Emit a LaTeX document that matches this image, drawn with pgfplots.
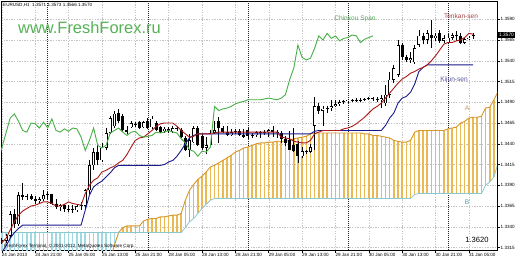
\documentclass[border=0pt]{standalone}
\usepackage{fontspec}
\setmainfont{Liberation Sans}
\usepackage{pgfplots}
\usepackage{pgfplotstable}
\pgfplotsset{compat=1.18}
\definecolor{tenkan}{RGB}{170,25,25}
\definecolor{kijun}{RGB}{25,25,140}
\definecolor{chinkou}{RGB}{70,175,70}
\definecolor{kumoup}{RGB}{232,185,85}
\definecolor{kumoA}{RGB}{214,150,40}
\definecolor{kumodn}{RGB}{160,216,228}
\definecolor{kumoB}{RGB}{140,200,205}
\definecolor{webgreen}{RGB}{86,178,86}
\definecolor{gridc}{RGB}{195,195,195}
\pgfplotsset{bars/.style={draw=none, mark=none,
  error bars/y dir=minus, error bars/y explicit, error bars/error mark=none}}

\pgfplotstableread{
i o h l c
0 1.3324 1.3327 1.3319 1.3323
1 1.3323 1.3331 1.3320 1.3329
2 1.3329 1.3359 1.3327 1.3355
3 1.3355 1.3362 1.3338 1.3343
4 1.3343 1.3382 1.3341 1.3378
5 1.3378 1.3393 1.3372 1.3376
6 1.3376 1.3380 1.3372 1.3377
7 1.3377 1.3379 1.3372 1.3374
8 1.3374 1.3377 1.3368 1.3371
9 1.3371 1.3376 1.3368 1.3373
10 1.3373 1.3384 1.3371 1.3378
11 1.3378 1.3382 1.3374 1.3379
12 1.3379 1.3380 1.3366 1.3368
13 1.3368 1.3373 1.3361 1.3364
14 1.3364 1.3368 1.3359 1.3366
15 1.3366 1.3368 1.3358 1.3361
16 1.3361 1.3366 1.3358 1.3362
17 1.3362 1.3366 1.3356 1.3360
18 1.3360 1.3367 1.3358 1.3365
19 1.3365 1.3370 1.3360 1.3366
20 1.3365 1.3386 1.3360 1.3384
21 1.3384 1.3420 1.3380 1.3414
22 1.3414 1.3435 1.3408 1.3430
23 1.3430 1.3438 1.3414 1.3420
24 1.3420 1.3441 1.3418 1.3435
25 1.3435 1.3459 1.3432 1.3453
26 1.3453 1.3473 1.3452 1.3471
27 1.3461 1.3479 1.3459 1.3476
28 1.3477 1.3482 1.3465 1.3467
29 1.3473 1.3476 1.3455 1.3456
30 1.3456 1.3461 1.3452 1.3454
31 1.3460 1.3467 1.3459 1.3465
32 1.3464 1.3466 1.3460 1.3464
33 1.3466 1.3468 1.3458 1.3459
34 1.3460 1.3468 1.3459 1.3466
35 1.3467 1.3471 1.3458 1.3459
36 1.3460 1.3473 1.3458 1.3470
37 1.3465 1.3467 1.3455 1.3456
38 1.3460 1.3462 1.3453 1.3454
39 1.3455 1.3460 1.3453 1.3458
40 1.3458 1.3460 1.3453 1.3455
41 1.3455 1.3461 1.3453 1.3459
42 1.3459 1.3461 1.3455 1.3458
43 1.3456 1.3459 1.3447 1.3448
44 1.3447 1.3449 1.3431 1.3432
45 1.3432 1.3452 1.3424 1.3444
46 1.3442 1.3461 1.3441 1.3459
47 1.3459 1.3461 1.3437 1.3438
48 1.3449 1.3452 1.3433 1.3435
49 1.3435 1.3448 1.3428 1.3438
50 1.3438 1.3456 1.3436 1.3453
51 1.3453 1.3467 1.3452 1.3456
52 1.3468 1.3472 1.3441 1.3459
53 1.3459 1.3461 1.3453 1.3454
54 1.3454 1.3461 1.3449 1.3450
55 1.3450 1.3458 1.3449 1.3454
56 1.3454 1.3458 1.3452 1.3455
57 1.3455 1.3458 1.3449 1.3450
58 1.3450 1.3458 1.3447 1.3448
59 1.3456 1.3459 1.3446 1.3449
60 1.3449 1.3453 1.3447 1.3450
61 1.3450 1.3455 1.3448 1.3454
62 1.3454 1.3455 1.3447 1.3453
63 1.3453 1.3456 1.3450 1.3454
64 1.3454 1.3458 1.3448 1.3456
65 1.3456 1.3461 1.3448 1.3454
66 1.3454 1.3456 1.3447 1.3453
67 1.3453 1.3455 1.3441 1.3446
68 1.3446 1.3449 1.3437 1.3441
69 1.3444 1.3455 1.3432 1.3433
70 1.3438 1.3459 1.3430 1.3431
71 1.3440 1.3443 1.3417 1.3425
72 1.3425 1.3436 1.3423 1.3431
73 1.3431 1.3433 1.3428 1.3430
74 1.3430 1.3440 1.3429 1.3436
75 1.3462 1.3496 1.3433 1.3485
76 1.3486 1.3489 1.3476 1.3480
77 1.3480 1.3485 1.3462 1.3482
78 1.3482 1.3486 1.3477 1.3483
79 1.3483 1.3493 1.3480 1.3485
80 1.3485 1.3493 1.3484 1.3488
81 1.3488 1.3493 1.3486 1.3490
82 1.3490 1.3493 1.3488 1.3491
83 1.3491 1.3494 1.3489 1.3493
84 1.3493 1.3494 1.3490 1.3493
85 1.3493 1.3495 1.3490 1.3493
86 1.3493 1.3495 1.3490 1.3493
87 1.3493 1.3495 1.3491 1.3494
88 1.3494 1.3496 1.3493 1.3495
89 1.3495 1.3496 1.3491 1.3494
90 1.3494 1.3496 1.3490 1.3493
91 1.3493 1.3499 1.3483 1.3495
92 1.3489 1.3511 1.3486 1.3499
93 1.3499 1.3526 1.3495 1.3517
94 1.3517 1.3535 1.3513 1.3531
95 1.3523 1.3565 1.3520 1.3559
96 1.3559 1.3561 1.3541 1.3544
97 1.3544 1.3547 1.3538 1.3541
98 1.3541 1.3550 1.3537 1.3543
99 1.3538 1.3559 1.3536 1.3555
100 1.3559 1.3577 1.3556 1.3570
101 1.3570 1.3574 1.3560 1.3565
102 1.3565 1.3577 1.3560 1.3573
103 1.3571 1.3589 1.3555 1.3567
104 1.3567 1.3573 1.3564 1.3570
105 1.3573 1.3577 1.3561 1.3564
106 1.3564 1.3571 1.3561 1.3567
107 1.3562 1.3572 1.3560 1.3568
108 1.3568 1.3574 1.3565 1.3571
109 1.3571 1.3576 1.3564 1.3570
110 1.3570 1.3573 1.3560 1.3562
111 1.3562 1.3568 1.3560 1.3566
112 1.3566 1.3570 1.3565 1.3568
113 1.3571 1.3573 1.3566 1.3570
}\candles

\pgfplotstableread{
i t k
0 1.3321 1.3309
1 1.3326 1.3317
2 1.3336 1.3326
3 1.3346 1.3333
4 1.3354 1.3338
5 1.3359 1.3342
6 1.3362 1.3342
7 1.3365 1.3342
8 1.3366 1.3342
9 1.3368 1.3342
10 1.3370 1.3342
11 1.3370 1.3342
12 1.3368 1.3342
13 1.3365 1.3342
14 1.3365 1.3342
15 1.3367 1.3342
16 1.3370 1.3342
17 1.3368 1.3342
18 1.3367 1.3342
19 1.3366 1.3342
20 1.3380 1.3360
21 1.3390 1.3378
22 1.3396 1.3388
23 1.3399 1.3392
24 1.3406 1.3395
25 1.3408 1.3400
26 1.3411 1.3405
27 1.3413 1.3411
28 1.3417 1.3414
29 1.3420 1.3414
30 1.3427 1.3414
31 1.3436 1.3414
32 1.3444 1.3414
33 1.3447 1.3414
34 1.3448 1.3414
35 1.3452 1.3414
36 1.3456 1.3414
37 1.3461 1.3414
38 1.3464 1.3414
39 1.3465 1.3415
40 1.3465 1.3418
41 1.3465 1.3420
42 1.3461 1.3425
43 1.3456 1.3432
44 1.3452 1.3440
45 1.3448 1.3447
46 1.3449 1.3450
47 1.3452 1.3452
48 1.3452 1.3452
49 1.3452 1.3452
50 1.3452 1.3452
51 1.3453 1.3452
52 1.3454 1.3452
53 1.3454 1.3452
54 1.3454 1.3452
55 1.3454 1.3452
56 1.3454 1.3452
57 1.3454 1.3452
58 1.3454 1.3452
59 1.3454 1.3452
60 1.3454 1.3452
61 1.3454 1.3452
62 1.3454 1.3452
63 1.3454 1.3452
64 1.3454 1.3452
65 1.3454 1.3452
66 1.3454 1.3452
67 1.3448 1.3452
68 1.3447 1.3452
69 1.3446 1.3452
70 1.3443 1.3452
71 1.3442 1.3452
72 1.3441 1.3452
73 1.3441 1.3452
74 1.3444 1.3452
75 1.3452 1.3455
76 1.3454 1.3456
77 1.3456 1.3456
78 1.3456 1.3456
79 1.3456 1.3456
80 1.3456 1.3456
81 1.3456 1.3456
82 1.3458 1.3456
83 1.3459 1.3456
84 1.3461 1.3456
85 1.3464 1.3456
86 1.3468 1.3456
87 1.3472 1.3456
88 1.3477 1.3456
89 1.3482 1.3456
90 1.3485 1.3456
91 1.3489 1.3456
92 1.3495 1.3462
93 1.3501 1.3471
94 1.3507 1.3477
95 1.3513 1.3489
96 1.3518 1.3495
97 1.3521 1.3497
98 1.3525 1.3502
99 1.3527 1.3512
100 1.3530 1.3527
101 1.3532 1.3532
102 1.3535 1.3535
103 1.3540 1.3535
104 1.3546 1.3535
105 1.3553 1.3535
106 1.3560 1.3535
107 1.3562 1.3535
108 1.3562 1.3535
109 1.3564 1.3535
110 1.3565 1.3535
111 1.3568 1.3535
112 1.3573 1.3535
113 1.3572 1.3535
}\ichi

\pgfplotstableread{
i A B
0 1.3300 1.3333
1 1.3300 1.3333
2 1.3300 1.3333
3 1.3300 1.3333
4 1.3300 1.3333
5 1.3300 1.3333
6 1.3300 1.3333
7 1.3300 1.3333
8 1.3300 1.3333
9 1.3300 1.3333
10 1.3300 1.3333
11 1.3300 1.3333
12 1.3300 1.3333
13 1.3300 1.3333
14 1.3300 1.3333
15 1.3300 1.3333
16 1.3300 1.3333
17 1.3300 1.3333
18 1.3300 1.3333
19 1.3300 1.3333
20 1.3300 1.3333
21 1.3300 1.3333
22 1.3300 1.3333
23 1.3300 1.3333
24 1.3300 1.3333
25 1.3300 1.3333
26 1.3300 1.3333
27 1.3318 1.3333
28 1.3333 1.3333
29 1.3339 1.3333
30 1.3341 1.3333
31 1.3341 1.3333
32 1.3341 1.3333
33 1.3341 1.3333
34 1.3347 1.3333
35 1.3349 1.3333
36 1.3350 1.3333
37 1.3350 1.3333
38 1.3352 1.3333
39 1.3352 1.3333
40 1.3353 1.3333
41 1.3354 1.3333
42 1.3354 1.3333
43 1.3356 1.3333
44 1.3372 1.3339
45 1.3384 1.3346
46 1.3391 1.3350
47 1.3397 1.3356
48 1.3401 1.3362
49 1.3406 1.3367
50 1.3412 1.3372
51 1.3414 1.3374
52 1.3417 1.3374
53 1.3420 1.3374
54 1.3423 1.3374
55 1.3426 1.3374
56 1.3430 1.3374
57 1.3432 1.3374
58 1.3435 1.3374
59 1.3436 1.3374
60 1.3438 1.3374
61 1.3440 1.3374
62 1.3441 1.3374
63 1.3441 1.3374
64 1.3442 1.3374
65 1.3442 1.3374
66 1.3443 1.3374
67 1.3443 1.3374
68 1.3443 1.3374
69 1.3444 1.3374
70 1.3446 1.3374
71 1.3447 1.3374
72 1.3448 1.3374
73 1.3449 1.3374
74 1.3452 1.3374
75 1.3453 1.3374
76 1.3453 1.3374
77 1.3453 1.3374
78 1.3453 1.3374
79 1.3453 1.3374
80 1.3453 1.3374
81 1.3453 1.3374
82 1.3453 1.3374
83 1.3453 1.3374
84 1.3453 1.3374
85 1.3453 1.3374
86 1.3453 1.3374
87 1.3452 1.3374
88 1.3452 1.3374
89 1.3450 1.3374
90 1.3450 1.3374
91 1.3449 1.3374
92 1.3448 1.3374
93 1.3447 1.3374
94 1.3444 1.3374
95 1.3443 1.3374
96 1.3442 1.3374
97 1.3442 1.3374
98 1.3444 1.3374
99 1.3454 1.3379
100 1.3456 1.3380
101 1.3456 1.3380
102 1.3456 1.3380
103 1.3456 1.3380
104 1.3456 1.3380
105 1.3456 1.3380
106 1.3456 1.3380
107 1.3458 1.3380
108 1.3459 1.3380
109 1.3460 1.3380
110 1.3465 1.3380
111 1.3467 1.3380
112 1.3471 1.3380
113 1.3472 1.3380
114 1.3472 1.3380
115 1.3473 1.3380
116 1.3483 1.3390
117 1.3484 1.3394
118 1.3493 1.3400
119 1.3503 1.3417
}\kumo

\begin{document}
\begin{tikzpicture}[x=1bp,y=1bp]
\fill[white] (0,0) rectangle (520,260);
\useasboundingbox (0,0) rectangle (520,260);
\begin{axis}[
  at={(1bp,10bp)}, anchor=south west,
  width=496bp, height=249bp, scale only axis,
  xmin=-0.2, xmax=118.74, ymin=1.3312, ymax=1.3612,
  axis line style={black, line width=0.8bp},
  xtick={0,8,16,24,32,40,48,56,64,72,80,88,96,104,112},
  xticklabels={24 Jan 2013,24 Jan 21:00,25 Jan 05:00,25 Jan 13:00,25 Jan 21:00,28 Jan 05:00,28 Jan 13:00,28 Jan 21:00,29 Jan 05:00,29 Jan 13:00,29 Jan 21:00,30 Jan 05:00,30 Jan 13:00,30 Jan 21:00,31 Jan 05:00},
  ytick={1.3315,1.3340,1.3365,1.3390,1.3415,1.3440,1.3465,1.3490,1.3515,1.3540,1.3565,1.3590},
  yticklabels={1.3315,1.3340,1.3365,1.3390,1.3415,1.3440,1.3465,1.3490,1.3515,1.3540,1.3565,1.3590},
  xtick pos=left, ytick pos=right, yticklabel pos=right,
  tick align=outside, major tick length=2.5bp,
  tick style={black, line width=0.5bp},
  grid=major,
  major grid style={gridc, dash pattern=on 1.3bp off 1.3bp, line width=0.4bp},
  tick label style={font=\fontsize{4.6}{5}\selectfont, inner sep=0.5bp},
  xticklabel style={anchor=north west, xshift=-0.6bp},
  yticklabel style={anchor=west, xshift=0.5bp},
  extra x ticks={11,35,59,83,107},
  extra x tick labels={},
  extra x tick style={grid=major, major tick length=0pt,
    major grid style={black!85, dash pattern=on 1bp off 1bp, line width=0.5bp}},
]
% cloud: down (cyan) where B is above A (bars 0-27)
\addplot[bars, restrict x to domain=0:27.5,
  error bars/error bar style={draw=kumodn, line width=1.5bp}]
  table[x=i, y=B, y error minus expr={\thisrow{B}-\thisrow{A}}] {\kumo};
% cloud: up (orange) where A is above B (bars 29 on)
\addplot[bars, restrict x to domain=28.5:120,
  error bars/error bar style={draw=kumoup, line width=1.5bp}]
  table[x=i, y=A, y error minus expr={\thisrow{A}-\thisrow{B}}] {\kumo};
\addplot[kumoA, line width=0.9bp] table[x=i, y=A] {\kumo};
\addplot[kumoB, line width=0.8bp] table[x=i, y=B] {\kumo};
% candles: wicks
\addplot[bars, error bars/error bar style={draw=black, line width=0.7bp}]
  table[x=i, y=h, y error minus expr={\thisrow{h}-\thisrow{l}}] {\candles};
% all bodies in black
\addplot[bars, error bars/error bar style={draw=black, line width=3bp}]
  table[x=i, y expr={max(\thisrow{o},\thisrow{c})},
        y error minus expr={max(abs(\thisrow{o}-\thisrow{c}),0.00009)}] {\candles};
% white inside for rising candles
\addplot[bars, error bars/error bar style={draw=white, line width=1.8bp}]
  table[x=i, y expr={\thisrow{c}-0.00007},
        y error minus expr={max(\thisrow{c}-\thisrow{o}-0.00014,0)}] {\candles};
% lines
\addplot[kijun, line width=0.9bp] table[x=i, y=k] {\ichi};
\addplot[tenkan, line width=0.9bp] table[x=i, y=t] {\ichi};
\addplot[chinkou, line width=0.9bp] table[x expr={\thisrow{i}-24}, y=c] {\candles};
\end{axis}
% texts
\node[anchor=west, font=\fontsize{4.6}{5}\selectfont, inner sep=0] at (3,254.5) {EURUSD,H1\ \ 1.3571 1.3573 1.3566 1.3570};
\node[anchor=base west, font=\fontsize{16.5}{18}\selectfont, text=webgreen, inner sep=0] at (18,226.7) {www.FreshForex.ru};
\node[font=\fontsize{6.6}{7}\selectfont, text={rgb,255:red,95;green,165;blue,95}, inner sep=0] at (355,241) {Chinkou Span};
\node[font=\fontsize{6.6}{7}\selectfont, text={rgb,255:red,165;green,70;blue,70}, inner sep=0] at (461,244) {Tenkan-sen};
\node[font=\fontsize{6.6}{7}\selectfont, text={rgb,255:red,85;green,85;blue,160}, inner sep=0] at (454,180) {Kijun-sen};
\node[font=\fontsize{6.6}{7}\selectfont, text={rgb,255:red,200;green,150;blue,80}, inner sep=0] at (467,152) {A};
\node[font=\fontsize{6.6}{7}\selectfont, text={rgb,255:red,60;green,160;blue,180}, inner sep=0] at (467,58) {B};
\node[font=\fontsize{7.6}{8}\selectfont, inner sep=0] at (477,20) {1.3620};
\node[anchor=west, font=\fontsize{4.6}{5}\selectfont, inner sep=0] at (4,14) {FreshForex Terminal, © 2001-2012, MetaQuotes Software Corp.};
\node[fill=black, text=white, anchor=west, inner xsep=1bp, inner ysep=0.9bp, font=\fontsize{4.8}{5}\selectfont] at (498,225) {1.3570};
\end{tikzpicture}
\end{document}
